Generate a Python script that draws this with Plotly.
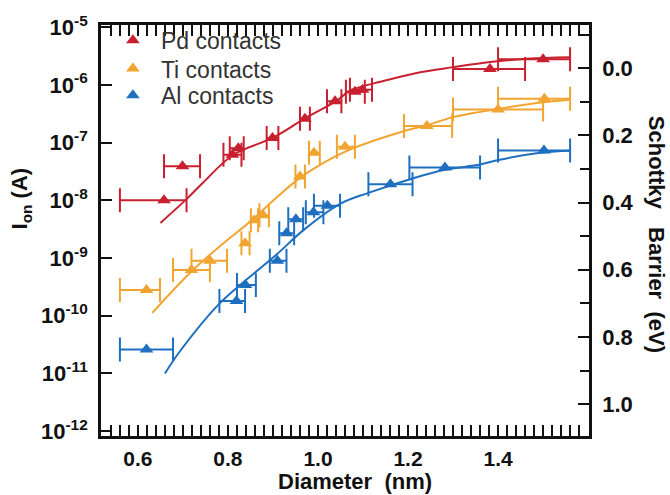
import plotly.graph_objects as go

# ---------------- data ----------------
pd_x = [0.658, 0.699, 0.810, 0.823, 0.899, 0.971, 1.038, 1.082, 1.099, 1.382, 1.500]
pd_y = [1.0e-8, 3.9e-8, 6.2e-8, 8.0e-8, 1.2e-7, 2.6e-7, 5.2e-7, 7.6e-7, 8.3e-7, 1.9e-6, 2.8e-6]
pd_xlo = [0.560, 0.658, 0.790, 0.804, 0.886, 0.960, 1.020, 1.062, 1.071, 1.300, 1.400]
pd_xhi = [0.708, 0.738, 0.830, 0.835, 0.912, 0.982, 1.052, 1.104, 1.120, 1.460, 1.560]

ti_x = [0.619, 0.719, 0.760, 0.838, 0.858, 0.878, 0.960, 0.991, 1.060, 1.242, 1.400, 1.503]
ti_y = [2.8e-10, 6.2e-10, 9.0e-10, 1.8e-9, 4.5e-9, 5.5e-9, 2.6e-8, 6.7e-8, 8.5e-8, 1.95e-7, 3.75e-7, 5.8e-7]
ti_xlo = [0.560, 0.678, 0.719, 0.830, 0.851, 0.870, 0.950, 0.980, 1.042, 1.191, 1.300, 1.400]
ti_xhi = [0.649, 0.760, 0.798, 0.848, 0.867, 0.891, 0.971, 1.004, 1.082, 1.298, 1.500, 1.560]

al_x = [0.619, 0.819, 0.839, 0.910, 0.930, 0.951, 0.990, 1.021, 1.161, 1.282, 1.502]
al_y = [2.6e-11, 1.8e-10, 3.4e-10, 9.0e-10, 2.7e-9, 4.7e-9, 6.2e-9, 8.1e-9, 1.9e-8, 3.7e-8, 7.3e-8]
al_xlo = [0.560, 0.781, 0.820, 0.893, 0.914, 0.934, 0.973, 0.991, 1.112, 1.203, 1.400]
al_xhi = [0.678, 0.838, 0.862, 0.930, 0.947, 0.967, 1.012, 1.049, 1.210, 1.360, 1.560]

# fitted curves
pd_fit_x = [0.650, 0.708, 0.745, 0.812, 0.900, 0.971, 1.040, 1.071, 1.145, 1.219, 1.300, 1.382, 1.464, 1.560]
pd_fit_y = [4.07e-9, 1.05e-8, 2.04e-8, 6.17e-8, 1.22e-7, 2.63e-7, 5.25e-7, 7.94e-7, 1.17e-6, 1.62e-6, 2.04e-6, 2.51e-6, 2.85e-6, 3.02e-6]
ti_fit_x = [0.632, 0.716, 0.790, 0.849, 0.908, 0.960, 1.012, 1.071, 1.190, 1.242, 1.300, 1.400, 1.500, 1.560]
ti_fit_y = [1.12e-10, 5.57e-10, 1.81e-9, 4.24e-9, 1.12e-8, 2.45e-8, 4.47e-8, 7.59e-8, 1.58e-7, 2.0e-7, 2.77e-7, 3.85e-7, 5.0e-7, 5.55e-7]
al_fit_x = [0.660, 0.693, 0.781, 0.842, 0.908, 0.967, 1.049, 1.112, 1.210, 1.282, 1.360, 1.400, 1.500, 1.560]
al_fit_y = [1.0e-11, 2.4e-11, 1.62e-10, 4.27e-10, 1.15e-9, 3.02e-9, 8.7e-9, 1.35e-8, 2.4e-8, 3.39e-8, 4.17e-8, 5.0e-8, 6.76e-8, 7.24e-8]

series_names = ["Pd contacts", "Ti contacts", "Al contacts"]
colors = ["#c8202f", "#f2a430", "#1f6fc0"]

x_ticks = [0.6, 0.8, 1.0, 1.2, 1.4]
x_mid_ticks = [0.7, 0.9, 1.1, 1.3, 1.5]
y_exps = [-12, -11, -10, -9, -8, -7, -6, -5]
sb_ticks = [0.0, 0.2, 0.4, 0.6, 0.8, 1.0]

NB = "\u00a0"
x_title = f"Diameter{NB}{NB}(nm)"
y_title = "I<sub>on</sub> (A)"
y2_title = f"Schottky{NB}{NB}{NB}Barrier{NB}{NB}(eV)"

# ---------------- figure ----------------
fig = go.Figure()
FONT = "Liberation Sans, Arial, sans-serif"

sets = [
    (pd_x, pd_y, pd_xlo, pd_xhi, pd_fit_x, pd_fit_y),
    (ti_x, ti_y, ti_xlo, ti_xhi, ti_fit_x, ti_fit_y),
    (al_x, al_y, al_xlo, al_xhi, al_fit_x, al_fit_y),
]
legend_ids = ["legend", "legend2", "legend3"]

for (xs, ys, xlo, xhi, fx, fy), name, col, lg in zip(sets, series_names, colors, legend_ids):
    fig.add_trace(go.Scatter(
        x=fx, y=fy, mode="lines", line=dict(color=col, width=2, shape="spline", smoothing=1.0),
        showlegend=False, hoverinfo="skip"))
    fig.add_trace(go.Scatter(
        x=xs, y=ys, mode="markers", name=name, legend=lg,
        marker=dict(symbol="triangle-up", size=12, color=col),
        error_x=dict(type="data", symmetric=False,
                     array=[h - x for h, x in zip(xhi, xs)],
                     arrayminus=[x - l for l, x in zip(xlo, xs)],
                     color=col, thickness=2, width=12),
    ))

# invisible helper traces to activate secondary axes
fig.add_trace(go.Scatter(x=[1.0], y=[0.5], yaxis="y2", mode="markers",
                         marker=dict(opacity=0), showlegend=False, hoverinfo="skip"))
fig.add_trace(go.Scatter(x=[1.0], y=[1e-8], xaxis="x2", mode="markers",
                         marker=dict(opacity=0), showlegend=False, hoverinfo="skip"))

INK = "#111"
xtickfont = dict(family=FONT, size=21, color=INK, weight="bold")
ytickfont = dict(family=FONT, size=22, color=INK, weight="bold")
titlefont = dict(family=FONT, size=22, color=INK, weight="bold")


def legend_box(ypos):
    return dict(x=0.008, y=ypos, xanchor="left", yanchor="middle",
                bgcolor="rgba(0,0,0,0)", font=dict(family=FONT, size=23, color="#333"),
                itemwidth=46, tracegroupgap=0)


fig.update_layout(
    width=670, height=495,
    margin=dict(l=101, r=81, t=18, b=59),
    paper_bgcolor="white", plot_bgcolor="white",
    font=dict(family=FONT),
    showlegend=True,
    legend=legend_box(0.963),
    legend2=legend_box(0.894),
    legend3=legend_box(0.829),
    xaxis=dict(
        range=[0.518, 1.602], tickvals=x_ticks, ticktext=[f"{v:.1f}" for v in x_ticks],
        ticks="inside", ticklen=11, tickwidth=2, tickcolor=INK,
        minor=dict(dtick=0.02, ticks="inside", ticklen=5, tickwidth=1.5, tickcolor=INK, showgrid=False),
        showline=True, linewidth=2.5, linecolor=INK, mirror="allticks",
        showgrid=False, zeroline=False, tickfont=xtickfont, ticklabelstandoff=2,
    ),
    xaxis2=dict(
        overlaying="x", matches="x", range=[0.518, 1.602], side="bottom",
        tickvals=x_mid_ticks, ticktext=["" for _ in x_mid_ticks],
        ticks="inside", ticklen=8, tickwidth=1.5, tickcolor=INK,
        mirror="allticks", showline=False, showgrid=False, zeroline=False,
    ),
    yaxis=dict(
        type="log", range=[-12.085, -4.96],
        tickvals=[10.0 ** e for e in y_exps],
        ticktext=[f"10<sup>{e}</sup>{NB}" for e in y_exps],
        ticks="inside", ticklen=11, tickwidth=2, tickcolor=INK,
        showline=True, linewidth=2.5, linecolor=INK, mirror=False,
        showgrid=False, zeroline=False, tickfont=ytickfont,
    ),
    yaxis2=dict(
        overlaying="y", side="right", range=[1.095, -0.129],
        tickvals=sb_ticks, ticktext=[f"{NB}{v:.1f}" for v in sb_ticks],
        ticks="inside", ticklen=11, tickwidth=2, tickcolor=INK,
        minor=dict(dtick=0.1, ticks="inside", ticklen=9, tickwidth=2, tickcolor=INK, showgrid=False),
        showline=True, linewidth=2.5, linecolor=INK,
        showgrid=False, zeroline=False, tickfont=ytickfont,
    ),
    annotations=[
        dict(text=x_title, xref="paper", yref="paper", x=0.52, y=-0.11,
             xanchor="center", yanchor="middle", showarrow=False, font=titlefont),
        dict(text=y_title, xref="paper", yref="paper", x=-0.163, y=0.579,
             xanchor="center", yanchor="middle", showarrow=False, font=titlefont, textangle=-90),
        dict(text=y2_title, xref="paper", yref="paper", x=1.139, y=0.49,
             xanchor="center", yanchor="middle", showarrow=False, font=titlefont, textangle=90),
    ],
)

fig.write_html("out.html")
